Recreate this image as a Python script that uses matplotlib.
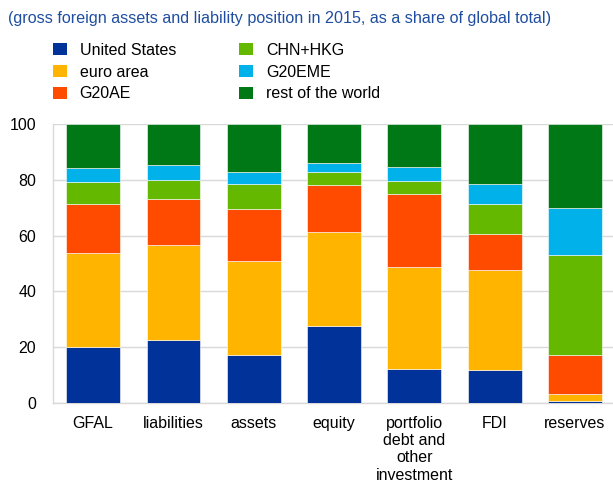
import numpy as np
import matplotlib
matplotlib.use("Agg")
import matplotlib.pyplot as plt
from matplotlib.patches import Patch

plt.rcParams['font.family'] = ['Liberation Sans', 'DejaVu Sans']

categories = ["GFAL", "liabilities", "assets", "equity",
              "portfolio\ndebt and\nother\ninvestment", "FDI", "reserves"]

series_names = ["United States", "euro area", "G20AE",
                "CHN+HKG", "G20EME", "rest of the world"]
united_states = [20.0, 22.6, 17.2, 27.5, 12.2, 12.0, 0.7]
euro_area = [33.7, 33.9, 33.6, 33.7, 36.4, 35.6, 2.6]
g20ae = [17.7, 16.7, 18.8, 16.8, 26.5, 13.0, 14.0]
chn_hkg = [8.0, 6.6, 8.9, 4.9, 4.4, 10.9, 35.6]
g20eme = [4.8, 5.7, 4.3, 3.3, 5.1, 7.0, 17.2]
rest_of_world = [15.8, 14.5, 17.2, 13.8, 15.4, 21.5, 29.9]

colors = ["#003299", "#FFB400", "#FF4B00", "#65B800", "#00B1EA", "#007816"]

fig = plt.figure(figsize=(6.13, 4.83), dpi=100)
ax = fig.add_axes([0.0865, 0.1656, 0.917, 0.5774])

x = np.arange(len(categories))
bottom = np.zeros(len(categories))
all_series = [united_states, euro_area, g20ae, chn_hkg, g20eme, rest_of_world]
for vals, col in zip(all_series, colors):
    ax.bar(x, vals, width=0.67, bottom=bottom, color=col,
           edgecolor="#ffffff", linewidth=0.4, zorder=3)
    bottom += np.array(vals)

ax.set_xlim(-0.5, len(categories) - 0.5)
ax.set_ylim(0, 100)
ax.set_yticks(range(0, 101, 20))
ax.set_xticks(x)
ax.set_xticklabels(categories, linespacing=1.2)
ax.tick_params(axis="both", length=0, labelsize=11.5, colors="#000000")
ax.tick_params(axis="y", pad=12)
ax.tick_params(axis="x", pad=9)
ax.grid(axis="y", color="#d9d9d9", linewidth=1.0, zorder=0)
for side in ["top", "right"]:
    ax.spines[side].set_visible(False)
for side in ["left", "bottom"]:
    ax.spines[side].set_color("#d9d9d9")
    ax.spines[side].set_linewidth(1.0)

fig.text(0.013, 0.961, "(gross foreign assets and liability position in 2015, as a share of global total)",
         color="#1f4ea0", fontsize=11.6, va="center", ha="left")

handles = [Patch(facecolor=c, edgecolor="none") for c in colors]
# legend fills column by column: first three entries go left
fig.legend(handles, series_names, ncol=2, loc="upper left",
           bbox_to_anchor=(0.076, 0.9244), frameon=False, fontsize=11.5,
           handlelength=0.875, handleheight=0.8, handletextpad=0.8,
           columnspacing=3.95, labelspacing=0.425, borderaxespad=0)

fig.savefig("out.png", dpi=100)
